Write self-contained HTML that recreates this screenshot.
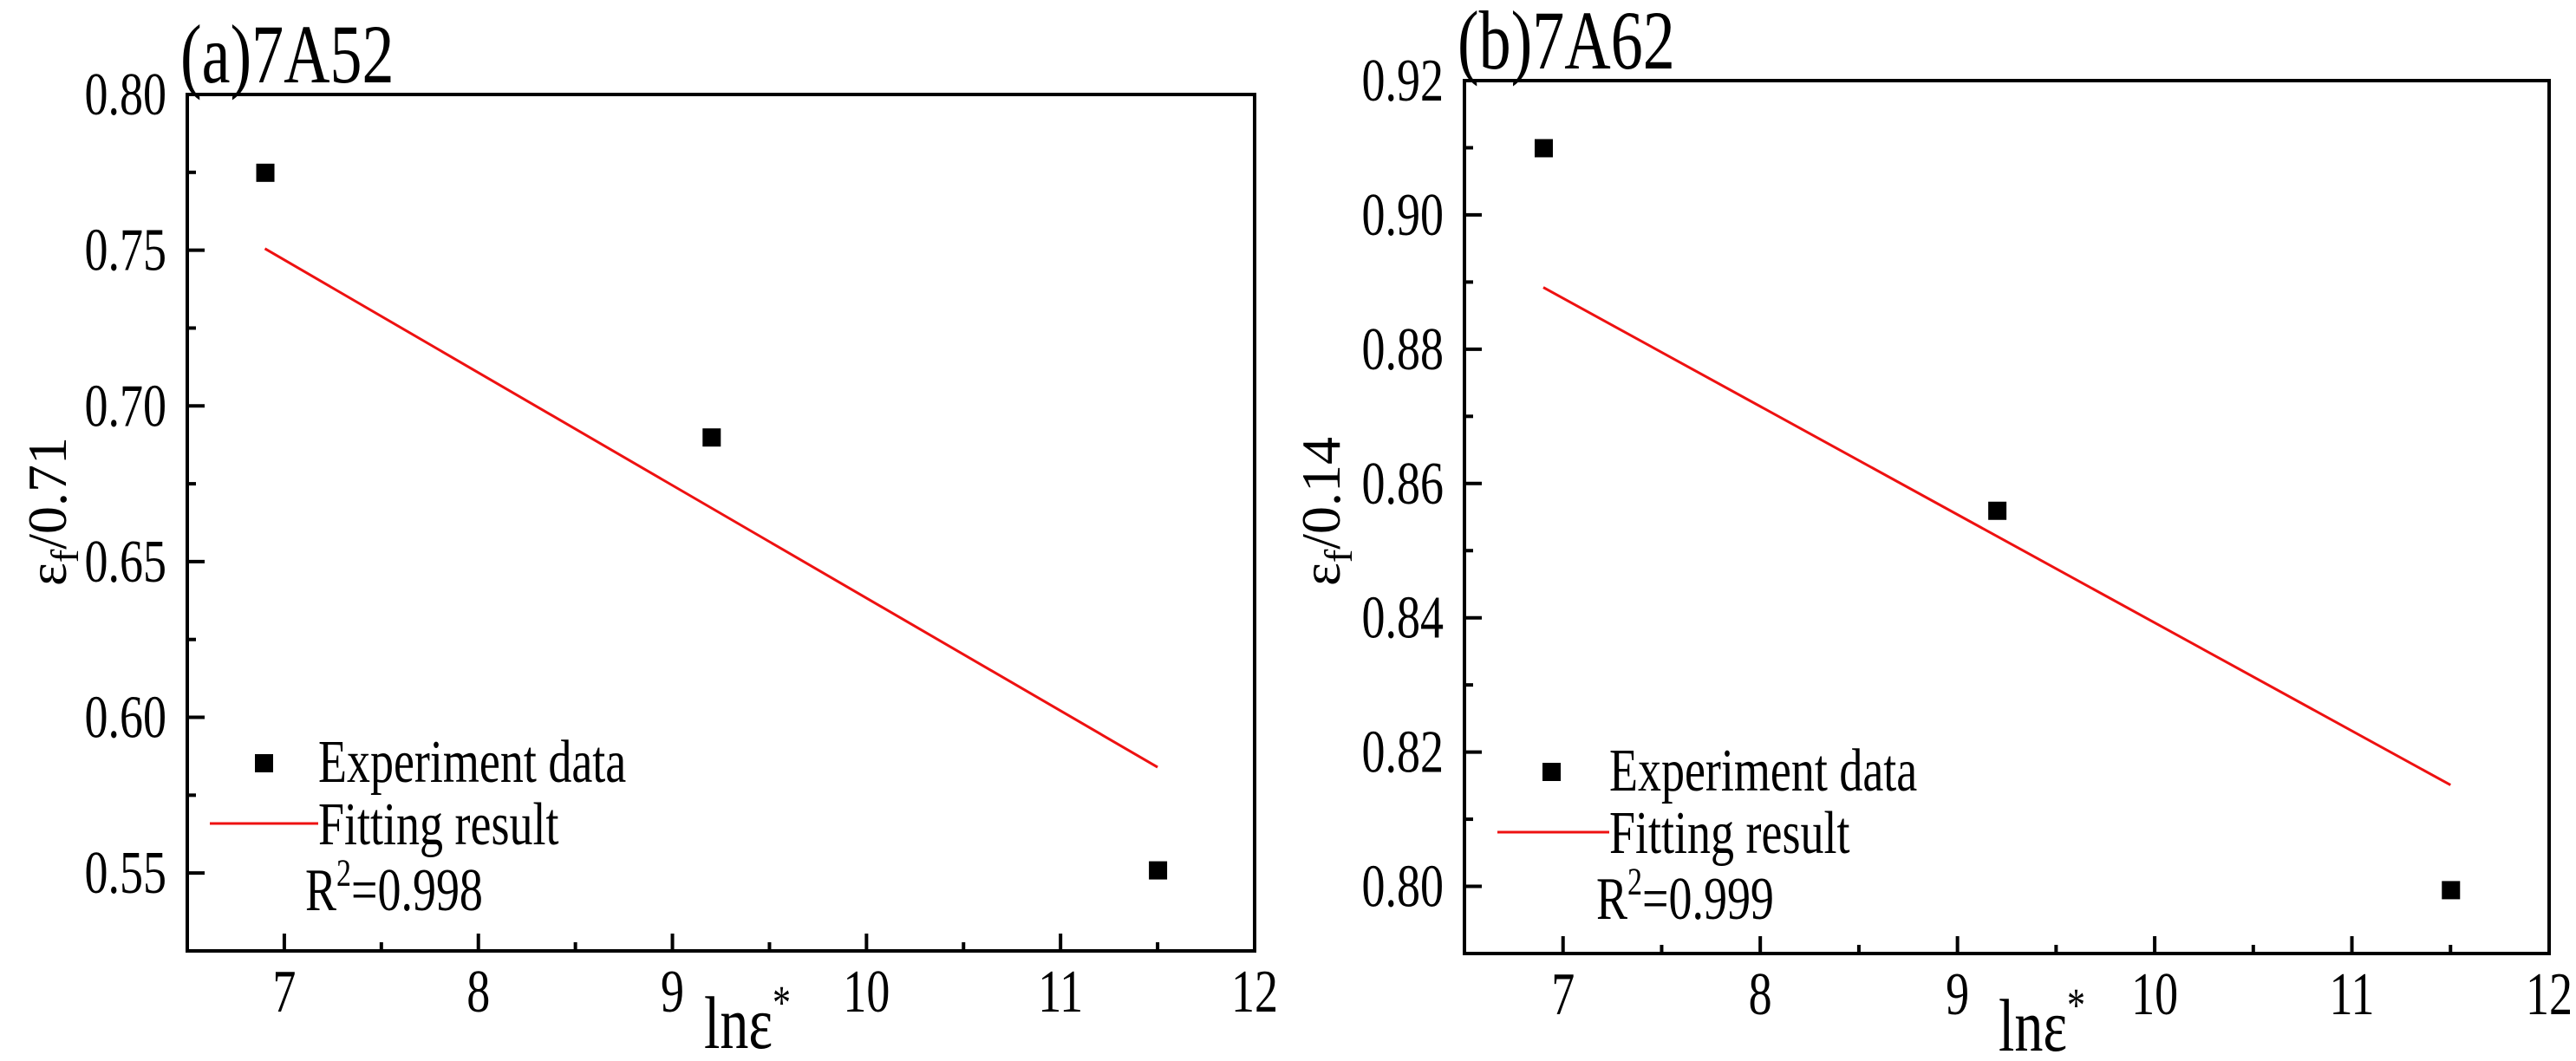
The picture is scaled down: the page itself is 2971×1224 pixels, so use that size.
<!DOCTYPE html>
<html><head><meta charset="utf-8"><style>
html,body{margin:0;padding:0;background:#fff;}
svg{display:block;font-family:"Liberation Serif","Times New Roman",serif;}
</style></head><body>
<svg id="chart" width="2971" height="1224" viewBox="0 0 2971 1224" xmlns="http://www.w3.org/2000/svg"></svg>
<script>
// Panel (a) 7A52 data
const aX = [6.9, 9.2, 11.5];
const aY = [0.775, 0.69, 0.551];
const aFitX = [6.9, 11.5];
const aFitY = [0.7505, 0.584];
const aXTicks = [7, 8, 9, 10, 11, 12];
const aYTicks = [0.55, 0.60, 0.65, 0.70, 0.75, 0.80];
const aYTickLabels = ["0.55", "0.60", "0.65", "0.70", "0.75", "0.80"];
// Panel (b) 7A62 data
const bX = [6.9, 9.2, 11.5];
const bY = [0.910, 0.856, 0.7995];
const bFitX = [6.9, 11.5];
const bFitY = [0.8892, 0.8151];
const bXTicks = [7, 8, 9, 10, 11, 12];
const bYTicks = [0.80, 0.82, 0.84, 0.86, 0.88, 0.90, 0.92];
const bYTickLabels = ["0.80", "0.82", "0.84", "0.86", "0.88", "0.90", "0.92"];

const NS = "http://www.w3.org/2000/svg";
const svg = document.getElementById("chart");
const K = 1.3; // vertical stretch of text as in reference
function mk(tag, attrs, parent) {
  const e = document.createElementNS(NS, tag);
  for (const k in attrs) e.setAttribute(k, attrs[k]);
  (parent || svg).appendChild(e);
  return e;
}
function txt(parent, x, y, size, anchor) {
  return mk("text", {x: 0, y: 0, "font-size": size, "text-anchor": anchor || "start",
    transform: "translate(" + x + "," + y + ") scale(1," + K + ")"}, parent);
}

function panel(p) {
  const g = mk("g", {});
  
  
  const sx = v => p.L + (v - p.xmin) / (p.xmax - p.xmin) * (p.R - p.L);
  const sy = v => p.B - (v - p.ymin) / (p.ymax - p.ymin) * (p.B - p.T);

  const fr = mk("rect", {x: p.L, y: p.T, width: p.R - p.L, height: p.B - p.T, fill: "none", stroke: "#000", "stroke-width": 4}, g);
  
  

  p.xTicks.forEach((t, i) => {
    const x = sx(t);
    const tk = mk("line", {x1: x, x2: x, y1: p.B, y2: p.B - 20, stroke: "#000", "stroke-width": 4}, g);
    
    
    const lb = txt(g, x, p.B + 70, 54, "middle");
    lb.textContent = String(t);
    
    
    if (i < p.xTicks.length - 1) {
      const xm = sx(t + 0.5);
      const mt = mk("line", {x1: xm, x2: xm, y1: p.B, y2: p.B - 10, stroke: "#000", "stroke-width": 4}, g);
      
      
    }
  });
  const step = p.yTicks[1] - p.yTicks[0];
  p.yTicks.forEach((t, i) => {
    const y = sy(t);
    const tk = mk("line", {x1: p.L, x2: p.L + 20, y1: y, y2: y, stroke: "#000", "stroke-width": 4}, g);
    
    
    const lb = txt(g, p.L - 24, y + 23, 54, "end");
    lb.textContent = p.yTickLabels[i];
    
    
    const ym = t - step / 2;
    if (ym > p.ymin) {
      const mt = mk("line", {x1: p.L, x2: p.L + 10, y1: sy(ym), y2: sy(ym), stroke: "#000", "stroke-width": 4}, g);
      
      
    }
  });

  const fl = mk("line", {x1: sx(p.fitX[0]), y1: sy(p.fitY[0]), x2: sx(p.fitX[1]), y2: sy(p.fitY[1]), stroke: "#ee1111", "stroke-width": 3}, g);
  
  

  p.xs.forEach((v, i) => {
    const r = mk("rect", {x: sx(v) - 10, y: sy(p.ys[i]) - 10, width: 21, height: 21, fill: "#000"}, g);
    
    
  });

  const lm = mk("rect", {x: p.legX - 10, y: p.legY - 10, width: 21, height: 21, fill: "#000"}, g);
  
  
  const lt1 = txt(g, p.legTX, p.legY + 22, 54);
  lt1.textContent = "Experiment data";
  
  
  const ll = mk("line", {x1: p.legLX, x2: p.legTX, y1: p.legY + 70, y2: p.legY + 70, stroke: "#ee1111", "stroke-width": 3}, g);
  
  
  const lt2 = txt(g, p.legTX, p.legY + 94, 54);
  lt2.textContent = "Fitting result";
  
  
  const r2 = txt(g, p.legTX - 15, p.legY + 170, 54);
  r2.innerHTML = 'R<tspan dy="-22" font-size="34">2</tspan><tspan dy="22">=' + p.r2 + '</tspan>';
  
  

  const ti = txt(g, p.L - 8, p.T - 14, 74);
  ti.textContent = p.title;
  
  

  const xt = txt(g, p.xTitleX, p.B + 112, 66, "middle");
  xt.innerHTML = 'lnε<tspan dy="-26" font-size="42">*</tspan>';
  
  
  const yt = mk("text", {x: 0, y: 0, "font-size": 64, "text-anchor": "middle", transform: "translate(" + p.yTitleX + "," + p.yTitleY + ") rotate(-90)"}, g);
  yt.innerHTML = 'ε<tspan dy="14" font-size="46">f</tspan><tspan dy="-14">/' + p.yDiv + '</tspan>';
  
  
}

panel({id: "a", L: 216, R: 1447, T: 109, B: 1097, xmin: 6.5, xmax: 12, ymin: 0.525, ymax: 0.80,
  xs: aX, ys: aY, fitX: aFitX, fitY: aFitY, xTicks: aXTicks, yTicks: aYTicks, yTickLabels: aYTickLabels,
  legX: 304, legY: 880, legTX: 367, legLX: 242, r2: "0.998", title: "(a)7A52",
  yTitleX: 76, yTitleY: 590, yDiv: "0.71", xTitleX: 862});
panel({id: "b", L: 1689, R: 2940, T: 93, B: 1100, xmin: 6.5, xmax: 12, ymin: 0.79, ymax: 0.92,
  xs: bX, ys: bY, fitX: bFitX, fitY: bFitY, xTicks: bXTicks, yTicks: bYTicks, yTickLabels: bYTickLabels,
  legX: 1789, legY: 890, legTX: 1856, legLX: 1727, r2: "0.999", title: "(b)7A62",
  yTitleX: 1545, yTitleY: 590, yDiv: "0.14", xTitleX: 2355});
</script>
</body></html>
